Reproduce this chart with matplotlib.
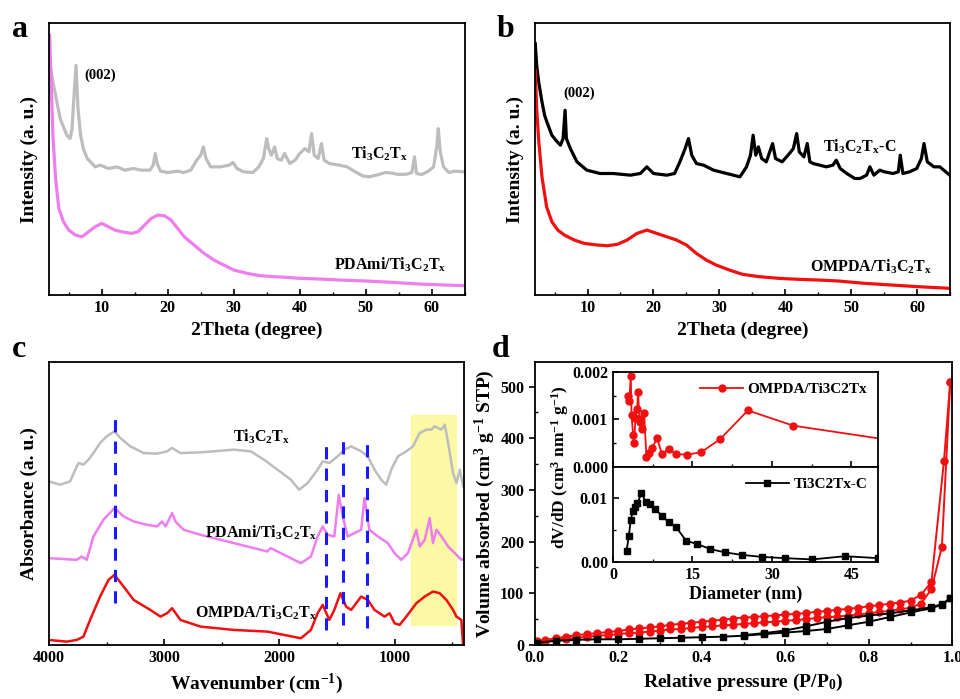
import numpy as np
import matplotlib
matplotlib.use("Agg")
import matplotlib.pyplot as plt
from matplotlib.ticker import MultipleLocator, FormatStrFormatter

plt.rcParams["font.family"] = ["Liberation Serif", "DejaVu Serif"]
plt.rcParams["font.weight"] = "bold"
plt.rcParams["axes.labelweight"] = "bold"
plt.rcParams["mathtext.fontset"] = "custom"
plt.rcParams["mathtext.rm"] = "Liberation Serif:bold"
plt.rcParams["mathtext.it"] = "Liberation Serif:italic:bold"
plt.rcParams["mathtext.bf"] = "Liberation Serif:bold"
plt.rcParams["mathtext.default"] = "rm"

# ---- (a) XRD: Ti3C2Tx and PDAmi/Ti3C2Tx ----
a_ti_x = [2.1, 2.6, 3.1, 3.7, 4.3, 4.7, 5.2, 5.5, 5.8, 6.1, 6.4, 6.8, 7.2, 7.8, 8.3, 9.0, 9.8,
          11, 12.3, 13.5, 14.8, 16, 17.3, 17.8, 18.1, 18.4, 18.9, 20, 21.5, 22.4, 23.5, 24.4,
          25.0, 25.4, 25.8, 26.5, 28, 29.3, 29.9, 30.5, 31.5, 32.9, 33.8, 34.5, 35.0, 35.3,
          35.7, 36.2, 36.6, 37.2, 37.7, 38.5, 39.3, 40.0, 40.8, 41.4, 41.8, 42.2, 42.8, 43.3,
          43.7, 44.5, 46, 47.2, 48.0, 49.5, 50.5, 52, 53, 54, 55, 56.2, 57.0, 57.4, 57.7, 58.5,
          59.5, 60.3, 60.8, 61.0, 61.3, 61.8, 62.6, 63.5, 64.9]
a_ti_y = [700, 640, 590, 530, 500, 480, 470, 500, 600, 690, 560, 480, 440, 410, 400, 385, 390,
          380, 385, 375, 380, 375, 375, 390, 425, 395, 372, 368, 372, 368, 375, 405,
          420, 445, 410, 385, 385, 390, 398, 380, 370, 368, 385, 410, 470, 440,
          420, 445, 410, 405, 425, 395, 405, 425, 440, 430, 485, 420, 410, 455,
          405, 395, 390, 385, 375, 358, 355, 362, 368, 366, 362, 363, 368, 415, 365, 362,
          372, 385, 450, 500, 430, 385, 368, 372, 370]
a_pda_x = [2.1, 2.3, 2.6, 3.0, 3.5, 4.2, 5.0, 6.0, 7.0, 8.0, 9.0, 10.0, 11.0, 12.0, 13.0, 14.5,
           15.5, 16.5, 17.5, 18.5, 19.5, 20.5, 21.5, 22.5, 24, 25.5, 27, 28.5, 30, 32, 34, 36,
           38, 40, 43, 46, 50, 54, 58, 62, 64.9]
a_pda_y = [780, 660, 480, 350, 260, 220, 195, 180, 175, 190, 205, 215, 205, 195, 190, 185,
           190, 210, 230, 240, 238, 225, 200, 175, 150, 125, 105, 90, 75, 65, 58, 55,
           53, 50, 48, 45, 42, 38, 33, 30, 28]

# ---- (b) XRD: Ti3C2Tx-C and OMPDA/Ti3C2Tx ----
b_tic_x = [2.08, 2.3, 2.6, 3.1, 3.5, 3.84, 4.6, 5.2, 5.9, 6.3, 6.6, 6.8, 7.4, 8.4, 9.9, 11.9,
           13.9, 16.5, 18.0, 19.0, 20.0, 22.0, 23.2, 24.0, 24.8, 25.3, 25.8, 26.5, 27.6, 29.1,
           31.1, 33.1, 34.1, 34.7, 35.1, 35.5, 35.9, 36.4, 37.1, 38.05, 38.5, 39.5, 40.6, 41.2,
           41.7, 42.1, 42.8, 43.3, 43.7, 44.2, 46.2, 47.2, 47.7, 48.3, 49.3, 50.5, 51.3, 52.3,
           52.8, 53.4, 54.3, 55.0, 56.3, 57.1, 57.4, 57.8, 58.8, 59.9, 60.6, 61.0, 61.5, 62.5,
           63.4, 64.9]
b_tic_y = [755, 690, 640, 580, 540, 520, 480, 465, 450, 470, 555, 470, 440, 400, 375, 365,
           365, 360, 365, 385, 365, 360, 365, 400, 440, 470, 420, 395, 390, 375,
           365, 355, 385, 420, 480, 420, 445, 410, 400, 455, 410, 400, 425, 440,
           485, 430, 415, 455, 400, 395, 385, 390, 405, 380, 365, 350, 350, 360,
           385, 360, 375, 370, 365, 370, 420, 365, 370, 380, 410, 455, 400, 385,
           385, 360]
b_omp_x = [2.08, 2.3, 2.6, 3.1, 3.8, 4.6, 5.5, 6.5, 8, 9.5, 11.5, 13, 14.5, 16, 17.5, 19, 20.5,
           22, 23.5, 25, 26.5, 28, 29.5, 31.5, 33.5, 36, 39, 42, 45, 48, 52, 56, 60, 64.9]
b_omp_y = [675, 560, 465, 355, 265, 220, 195, 180, 165, 155, 150, 148, 152, 165, 185, 195, 185,
           175, 165, 150, 125, 105, 90, 75, 62, 55, 50, 47, 45, 42, 35, 30, 25, 20]

# ---- (c) FTIR ----
c_ti_x = [4000, 3904, 3817, 3744, 3701, 3657, 3614, 3556, 3498, 3431, 3381, 3294, 3178, 3061,
          2975, 2931, 2859, 2684, 2394, 2249, 2133, 2016, 1900, 1828, 1755, 1668, 1624, 1566,
          1494, 1436, 1377, 1290, 1232, 1174, 1116, 1072, 1029, 971, 898, 840, 782, 724, 680,
          651, 593, 564, 535, 492, 463, 434, 404]
c_ti_y = [490, 480, 490, 545, 540, 555, 575, 605, 625, 640, 620, 595, 575, 573,
          580, 590, 575, 577, 585, 580, 555, 525, 495, 465, 485, 525, 550, 545,
          565, 585, 595, 580, 565, 525, 495, 480, 525, 565, 580, 595, 635, 645, 645,
          655, 645, 660, 605, 515, 485, 525, 475]
c_pda_x = [4000, 3759, 3715, 3672, 3614, 3527, 3431, 3352, 3265, 3149, 3061, 3018, 2988, 2931,
           2902, 2830, 2684, 2394, 2104, 2075, 2016, 1813, 1726, 1668, 1624, 1581, 1523, 1484,
           1450, 1407, 1349, 1290, 1261, 1218, 1145, 1058, 1000, 942, 884, 811, 782, 738, 695,
           666, 637, 593, 535, 477, 419, 390]
c_pda_y = [260, 255, 265, 255, 325, 375, 410, 385, 370, 360, 355, 370, 355, 395,
           370, 345, 330, 305, 280, 290, 280, 245, 265, 325, 355, 330, 325, 450,
           385, 325, 335, 345, 440, 345, 325, 305, 275, 255, 275, 345, 295, 315, 380,
           305, 345, 325, 295, 275, 255, 260]
c_omp_x = [4000, 3846, 3759, 3701, 3643, 3556, 3483, 3431, 3352, 3265, 3120, 3032, 2975, 2931,
           2859, 2684, 2394, 2104, 1958, 1813, 1726, 1668, 1624, 1566, 1523, 1470, 1421, 1377,
           1290, 1232, 1174, 1087, 1043, 1000, 956, 898, 811, 738, 666, 608, 550, 492, 463, 420,
           405]
c_omp_y = [15, 10, 15, 25, 75, 145, 195, 210, 175, 135, 105, 85, 95, 110,
           75, 55, 45, 40, 30, 20, 45, 95, 120, 75, 105, 155, 115, 105,
           145, 135, 105, 85, 95, 65, 60, 85, 125, 145, 160, 155, 135, 105, 85, 75,
           0]
c_peaks = [3430, 1595, 1450, 1240]

# ---- (d) N2 isotherms ----
d_omp_p_ads = [0.005, 0.025, 0.05, 0.075, 0.1, 0.125, 0.15, 0.175, 0.2, 0.225, 0.25, 0.275,
               0.3, 0.325, 0.35, 0.375, 0.4, 0.425, 0.45, 0.475, 0.5, 0.525, 0.55, 0.575, 0.6,
               0.625, 0.65, 0.675, 0.7, 0.725, 0.75, 0.775, 0.8, 0.825, 0.85, 0.875, 0.9,
               0.925, 0.95, 0.975, 0.995]
d_omp_v_ads = [5, 8, 10, 12, 14, 16, 18, 19, 21, 23, 24, 26,
               28, 30, 31, 33, 35, 36, 38, 39, 41, 42, 44, 45, 47,
               48, 50, 52, 54, 55, 57, 59, 61, 64, 66, 69, 72,
               80, 108, 190, 509]
d_omp_p_des = [0.995, 0.98, 0.95, 0.925, 0.9, 0.875, 0.85, 0.825, 0.8, 0.775, 0.75, 0.725,
               0.7, 0.675, 0.65, 0.625, 0.6, 0.575, 0.55, 0.525, 0.5, 0.475, 0.45, 0.425,
               0.4, 0.375, 0.35, 0.325, 0.3, 0.275, 0.25, 0.225, 0.2, 0.175, 0.15, 0.125,
               0.1, 0.075, 0.05, 0.025, 0.005]
d_omp_v_des = [509, 356, 122, 97, 86, 82, 80, 77, 75, 72, 70, 68,
               66, 64, 62, 60, 59, 57, 56, 54, 53, 51, 49, 47,
               45, 43, 41, 39, 36, 34, 32, 30, 27, 25, 23, 21,
               19, 16, 13, 10, 7]
d_tic_p_ads = [0.005, 0.05, 0.1, 0.15, 0.2, 0.25, 0.3, 0.35, 0.4, 0.45, 0.5, 0.55, 0.6, 0.65,
               0.7, 0.75, 0.8, 0.85, 0.9, 0.95, 0.975, 0.995]
d_tic_v_ads = [4, 8, 10, 11, 11, 12, 13, 14, 15, 16, 18, 21, 24, 27,
               31, 38, 45, 54, 63, 71, 78, 90]
d_tic_p_des = [0.995, 0.975, 0.95, 0.9, 0.85, 0.8, 0.75, 0.7, 0.65, 0.6, 0.55, 0.5]
d_tic_v_des = [90, 79, 73, 67, 61, 57, 52, 45, 36, 28, 23, 19]

# inset: pore size distributions
psd_omp_d = [2.88, 3.06, 3.37, 3.5, 3.81, 4.0, 4.25, 4.56, 4.75, 5.0, 5.19, 5.5, 5.88, 6.31,
             6.81, 7.38, 8.32, 9.26, 10.5, 11.94, 13.94, 16.63, 20.26, 25.45, 34.02, 52.0]
psd_omp_v = [0.0015, 0.00138, 0.00192, 0.00109, 0.00067, 0.0005, 0.00104, 0.00123, 0.00157,
             0.001, 0.00095, 0.00079, 0.00114, 0.00022, 0.00029, 0.0004, 0.0006, 0.00027,
             0.00038, 0.00027, 0.00026, 0.00031, 0.00059, 0.00119, 0.00087, 0.00057]
psd_tic_d = [2.56, 3.0, 3.37, 3.75, 4.13, 4.63, 5.38, 6.19, 7.07, 8.0, 9.26, 10.5, 11.94,
             13.82, 15.88, 18.39, 21.14, 24.33, 28.08, 32.4, 37.6, 43.8, 50.0]
psd_tic_v = [0.0017, 0.0041, 0.0066, 0.008, 0.0086, 0.0092, 0.0107, 0.0094, 0.009, 0.0082,
             0.0072, 0.0062, 0.0054, 0.0033, 0.0028, 0.002, 0.0015, 0.0011, 0.0008, 0.0006,
             0.0004, 0.0009, 0.0006]

GRAY = "#bdbdbd"
PINK = "#ee7eee"
RED = "#f01010"
BLUE = "#1a1aff"

TI = "Ti$_3$C$_2$T$_x$"


def style_box(ax):
    for s in ax.spines.values():
        s.set_linewidth(1.3)
    ax.tick_params(axis="both", which="both", direction="in", labelsize=11.5,
                   top=False, right=False)
    ax.tick_params(which="major", length=4, width=1.2)
    ax.tick_params(which="minor", length=2.5, width=1)


def plot_xrd(ax, x1, y1, c1, x2, y2, c2):
    ax.plot(x1, y1, color=c1, lw=2.3)
    ax.plot(x2, y2, color=c2, lw=2.3)
    ax.set_xlim(2, 65)
    ax.set_ylim(0, 817)
    ax.set_yticks([])
    ax.xaxis.set_major_locator(MultipleLocator(10))
    ax.xaxis.set_minor_locator(MultipleLocator(5))
    style_box(ax)
    ax.set_xlabel("2Theta (degree)", fontsize=14, labelpad=4)
    ax.set_ylabel("Intensity (a. u.)", fontsize=14, labelpad=8)


fig = plt.figure(figsize=(9.6, 6.99), dpi=100)

ax_a = fig.add_axes([0.051, 0.578, 0.433, 0.389])
plot_xrd(ax_a, a_ti_x, a_ti_y, GRAY, a_pda_x, a_pda_y, PINK)
ax_a.text(7.4, 660, "(002)", fontsize=10.5, va="center")
ax_a.text(47.8, 425, TI, fontsize=11.5, va="center")
ax_a.text(45.2, 90, "PDAmi/" + TI, fontsize=11.5, va="center")

ax_b = fig.add_axes([0.557, 0.578, 0.433, 0.389])
plot_xrd(ax_b, b_tic_x, b_tic_y, "black", b_omp_x, b_omp_y, RED)
ax_b.text(6.3, 605, "(002)", fontsize=10.5, va="center")
ax_b.text(45.7, 445, TI + "-C", fontsize=11.5, va="center")
ax_b.text(43.7, 85, "OMPDA/" + TI, fontsize=11.5, va="center")

# ---- (c) ----
ax_c = fig.add_axes([0.051, 0.0773, 0.432, 0.405])
ax_c.axvspan(860, 463, ymin=60 / 848, ymax=690 / 848, color="#fbf8a6", zorder=0)
ax_c.plot(c_ti_x, c_ti_y, color=GRAY, lw=1.8)
ax_c.plot(c_pda_x, c_pda_y, color=PINK, lw=1.8)
ax_c.plot(c_omp_x, c_omp_y, color=RED, lw=1.8)
peak_ext = [(125, 690), (45, 610), (60, 625), (50, 615)]
for wn, (lo, hi) in zip(c_peaks, peak_ext):
    ax_c.plot([wn, wn], [lo, hi], color=BLUE, lw=2.2, ls=(0, (4, 3)))
ax_c.set_xlim(4000, 400)
ax_c.set_ylim(0, 848)
ax_c.set_yticks([])
ax_c.xaxis.set_major_locator(MultipleLocator(1000))
ax_c.xaxis.set_minor_locator(MultipleLocator(500))
style_box(ax_c)
ax_c.set_xlabel("Wavenumber (cm$^{-1}$)", fontsize=14, labelpad=4)
ax_c.set_ylabel("Absorbance (a. u.)", fontsize=14, labelpad=8)
ax_c.text(2150, 625, TI, fontsize=11.5, ha="center", va="center")
ax_c.text(2160, 335, "PDAmi/" + TI, fontsize=11.5, ha="center", va="center")
ax_c.text(2200, 95, "OMPDA/" + TI, fontsize=11.5, ha="center", va="center")

# ---- (d) ----
ax_d = fig.add_axes([0.557, 0.0773, 0.435, 0.405])
ax_d.plot(d_omp_p_ads, d_omp_v_ads, color=RED, lw=1.4, marker="o", ms=5)
ax_d.plot(d_omp_p_des, d_omp_v_des, color=RED, lw=1.4, marker="o", ms=5)
ax_d.plot(d_tic_p_ads, d_tic_v_ads, color="black", lw=1.4, marker="s", ms=4.5)
ax_d.plot(d_tic_p_des, d_tic_v_des, color="black", lw=1.4, marker="s", ms=4.5)
ax_d.set_xlim(0, 1.0)
ax_d.set_ylim(0, 548)
ax_d.xaxis.set_major_locator(MultipleLocator(0.2))
ax_d.xaxis.set_minor_locator(MultipleLocator(0.1))
ax_d.yaxis.set_major_locator(MultipleLocator(100))
ax_d.yaxis.set_minor_locator(MultipleLocator(50))
ax_d.xaxis.set_major_formatter(FormatStrFormatter("%.1f"))
style_box(ax_d)
ax_d.tick_params(axis="y", which="major", direction="out")
ax_d.set_xlabel("Relative pressure (P/P$_0$)", fontsize=14, labelpad=4)
ax_d.set_ylabel("Volume absorbed (cm$^3$ g$^{-1}$ STP)", fontsize=14, labelpad=2)

ins_top = fig.add_axes([0.6385, 0.3319, 0.276, 0.136])
ins_bot = fig.add_axes([0.6385, 0.196, 0.276, 0.136])
ins_top.plot(psd_omp_d, psd_omp_v, color=RED, lw=1.3, marker="o", ms=5,
             label="OMPDA/Ti3C2Tx")
ins_bot.plot(psd_tic_d, psd_tic_v, color="black", lw=1.3, marker="s", ms=4.5,
             label="Ti3C2Tx-C")
for ins in (ins_top, ins_bot):
    ins.set_xlim(0, 50)
    ins.xaxis.set_major_locator(MultipleLocator(15))
    ins.xaxis.set_minor_locator(MultipleLocator(7.5))
    style_box(ins)
    ins.tick_params(labelsize=11.5)
    ins.legend(loc="upper right", frameon=False, fontsize=11, handlelength=2.8,
               handletextpad=0.3, borderaxespad=0.3)
ins_top.set_ylim(0, 0.002)
ins_top.yaxis.set_major_locator(MultipleLocator(0.001))
ins_top.yaxis.set_minor_locator(MultipleLocator(0.0005))
ins_top.yaxis.set_major_formatter(FormatStrFormatter("%.3f"))
ins_top.tick_params(labelbottom=False)
ins_bot.set_ylim(0, 0.0148)
ins_bot.yaxis.set_major_locator(MultipleLocator(0.01))
ins_bot.yaxis.set_minor_locator(MultipleLocator(0.005))
ins_bot.yaxis.set_major_formatter(FormatStrFormatter("%.2f"))
ins_bot.set_xlabel("Diameter (nm)", fontsize=13, labelpad=2)
fig.text(0.583, 0.3319, "dV/dD (cm$^3$ nm$^{-1}$ g$^{-1}$)", rotation=90,
         ha="center", va="center", fontsize=12.5)

for lbl, x, y in [("a", 0.013, 0.947), ("b", 0.517, 0.947),
                  ("c", 0.012, 0.489), ("d", 0.512, 0.489)]:
    fig.text(x, y, lbl, fontsize=23, fontweight="bold", va="baseline")

fig.savefig("out.png", dpi=100)
